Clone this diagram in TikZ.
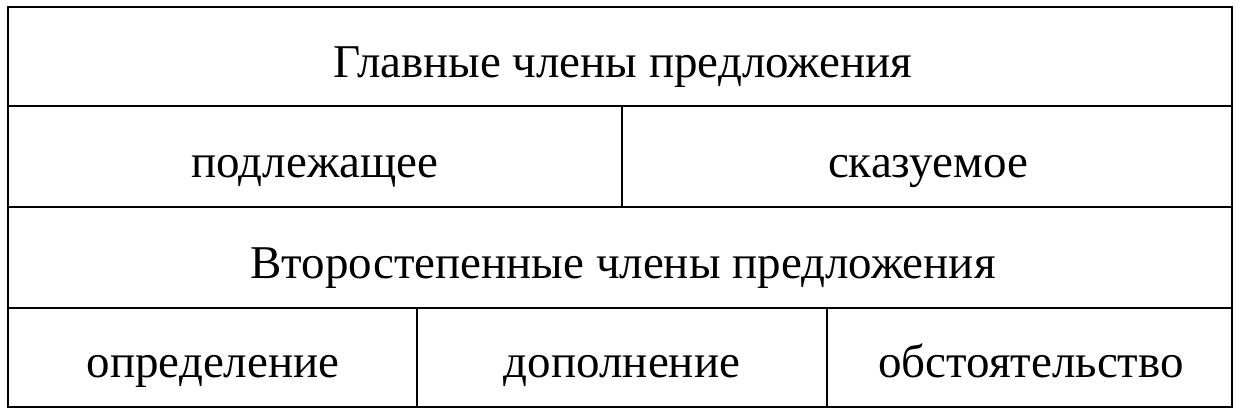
\documentclass[tikz,border=0pt]{standalone}
\usepackage{fontspec}
\setmainfont{Liberation Serif}
\begin{document}
\begin{tikzpicture}[x=1pt,y=-1pt,
  cell/.style={font=\fontsize{47}{56}\selectfont, anchor=base, inner sep=0pt},
  inner/.style={line width=1.3pt},
  outer/.style={line width=2pt}]
\useasboundingbox (0,0) rectangle (1240,413);
\fill[white] (0,0) rectangle (1240,413);
\coordinate (tl) at (8,7);
\coordinate (br) at (1232,407);
\draw[inner] (8,106) -- (1232,106);
\draw[inner] (8,207) -- (1232,207);
\draw[inner] (8,308) -- (1232,308);
\draw[inner] (622,106) -- (622,207);
\draw[inner] (417,308) -- (417,407);
\draw[inner] (827,308) -- (827,407);
\draw[outer] (tl) rectangle (br);
\node[cell] (main) at (623,77) {Главные члены предложения};
\node[cell] (subj) at (315,177) {подлежащее};
\node[cell] (pred) at (928,177) {сказуемое};
\node[cell] (sec) at (623,278) {Второстепенные члены предложения};
\node[cell] (attr) at (213,377) {определение};
\node[cell] (obj) at (622,377) {дополнение};
\node[cell] (adv) at (1031,377) {обстоятельство};
\end{tikzpicture}
\end{document}
